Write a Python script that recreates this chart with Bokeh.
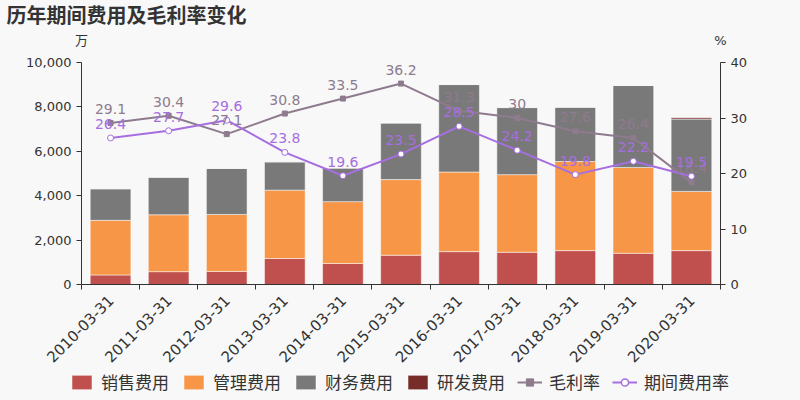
import math
from bokeh.plotting import figure
from bokeh.models import (Range1d, LinearAxis, FixedTicker, NumeralTickFormatter,
                          ColumnDataSource, Legend, LegendItem)
from bokeh.embed import file_html
from bokeh.resources import INLINE
from bokeh.core.properties import value

dates = ["2010-03-31", "2011-03-31", "2012-03-31", "2013-03-31", "2014-03-31", "2015-03-31",
         "2016-03-31", "2017-03-31", "2018-03-31", "2019-03-31", "2020-03-31"]
sales = [430, 578, 590, 1170, 948, 1320, 1481, 1452, 1526, 1407, 1526]
admin = [2460, 2562, 2565, 3080, 2785, 3405, 3585, 3496, 4014, 3867, 2667]
finance = [1422, 1690, 2075, 1275, 1511, 2549, 3941, 3022, 2445, 3689, 3259]
rnd = [0, 0, 0, 0, 0, 0, 0, 0, 0, 0, 60]
gross_margin = [29.1, 30.4, 27.1, 30.8, 33.5, 36.2, 31.3, 30.0, 27.6, 26.4, 18.4]
expense_rate = [26.4, 27.7, 29.6, 23.8, 19.6, 23.5, 28.5, 24.2, 19.8, 22.2, 19.5]
left_ticks = [0, 2000, 4000, 6000, 8000, 10000]
right_ticks = [0, 10, 20, 30, 40]
left_unit = "万"
right_unit = "%"
title_text = "历年期间费用及毛利率变化"
series_names = ["销售费用", "管理费用", "财务费用", "研发费用", "毛利率", "期间费用率"]

FONT = "DejaVu Sans, Noto Sans CJK SC"
BG = "#f8f8f8"
TXT = "#333333"
C_SALES, C_ADMIN, C_FIN, C_RND = "#c0504d", "#f79646", "#797979", "#772c2a"
C_GM, C_ER = "#8e7b8e", "#a66ee0"
BAR_COLORS = [C_SALES, C_ADMIN, C_FIN, C_RND]
STACK = ["sales", "admin", "finance", "rnd"]

n = len(dates)
xs = list(range(n))
src = ColumnDataSource(dict(x=xs, sales=sales, admin=admin, finance=finance, rnd=rnd,
                            gm=gross_margin, er=expense_rate,
                            gml=[f"{v:g}" for v in gross_margin],
                            erl=[f"{v:g}" for v in expense_rate]))

p = figure(width=800, height=370, output_backend="svg", toolbar_location=None,
           x_range=Range1d(-0.5, n - 0.5), y_range=Range1d(0, 10000),
           min_border_left=81, min_border_right=80, min_border_top=60, min_border_bottom=85,
           background_fill_color=BG, border_fill_color=BG, outline_line_color=None)
p.extra_y_ranges = {"pct": Range1d(0, 40)}
p.xgrid.grid_line_color = None
p.ygrid.grid_line_color = None

p.vbar_stack(STACK, x="x", width=0.7, source=src,
             fill_color=BAR_COLORS, line_color="white", line_alpha=0.5, line_width=1)

p.line("x", "gm", source=src, y_range_name="pct", line_color=C_GM, line_width=2)
p.scatter("x", "gm", source=src, y_range_name="pct", marker="square", size=5,
          fill_color=C_GM, line_color=C_GM)
p.line("x", "er", source=src, y_range_name="pct", line_color=C_ER, line_width=2)
p.scatter("x", "er", source=src, y_range_name="pct", marker="circle", size=6,
          fill_color="white", line_color=C_ER, line_width=1)

p.text("x", "gm", text="gml", source=src, y_range_name="pct", text_align="center",
       text_baseline="middle", y_offset=-14, text_font_size="14px", text_color=C_GM,
       text_font=value(FONT))
p.text("x", "er", text="erl", source=src, y_range_name="pct", text_align="center",
       text_baseline="middle", y_offset=-14, text_font_size="14px", text_color=C_ER,
       text_font=value(FONT))

# axes
xa = p.xaxis[0]
xa.ticker = FixedTicker(ticks=xs, minor_ticks=[i - 0.5 for i in range(n + 1)])
xa.major_label_overrides = {i: d for i, d in enumerate(dates)}
xa.major_label_orientation = math.pi / 4
xa.major_tick_line_color = None
xa.major_tick_out = 0
xa.major_tick_in = 0
xa.minor_tick_line_color = TXT
xa.minor_tick_out = 5
xa.minor_tick_in = 0
xa.major_label_standoff = 8

ya = p.yaxis[0]
ya.ticker = FixedTicker(ticks=left_ticks)
ya.formatter = NumeralTickFormatter(format="0,0")

ra = LinearAxis(y_range_name="pct", ticker=FixedTicker(ticks=right_ticks))
p.add_layout(ra, "right")

for ax in (xa, ya, ra):
    ax.axis_line_color = TXT
    ax.major_label_text_color = TXT
    ax.major_label_text_font = FONT
    ax.major_label_text_font_size = "13px"
for ax in (ya, ra):
    ax.major_tick_line_color = TXT
    ax.major_tick_out = 5
    ax.major_tick_in = 0
    ax.minor_tick_line_color = None
    ax.major_label_standoff = 5
xa.major_label_text_font_size = "15px"

# unit labels via an invisible top axis
ua = LinearAxis(ticker=FixedTicker(ticks=[-0.5, n - 0.5], minor_ticks=[]),
                major_label_overrides={-0.5: left_unit, n - 0.5: right_unit},
                axis_line_color=None, major_tick_line_color=None, minor_tick_line_color=None,
                major_tick_out=0, major_tick_in=0, major_label_standoff=15,
                major_label_text_font=FONT, major_label_text_font_size="13px",
                major_label_text_color=TXT)
p.add_layout(ua, "above")

# title
p.title.text = title_text
p.title.align = "left"
p.title.offset = -75
p.title.text_font = FONT
p.title.text_font_size = "20px"
p.title.text_font_style = "bold"
p.title.text_color = TXT
p.title.standoff = 3

# legend strip: a separate small figure whose view excludes the data, so only the legend shows
lg = figure(width=800, height=30, output_backend="svg", toolbar_location=None,
            x_axis_type=None, y_axis_type=None,
            x_range=Range1d(-1000, -999), y_range=Range1d(-1000, -999),
            min_border=0, min_border_left=0, min_border_right=0,
            min_border_top=0, min_border_bottom=0,
            background_fill_color=BG, border_fill_color=BG, outline_line_color=None)
lg.xgrid.grid_line_color = None
lg.ygrid.grid_line_color = None
items = []
bstack = lg.vbar_stack(STACK, x="x", width=0.7, source=src, fill_color=BAR_COLORS,
                       line_color="white", line_alpha=0.5, line_width=1)
for name, r in zip(series_names[:4], bstack):
    items.append(LegendItem(label=name, renderers=[r]))
r1 = lg.line("x", "gm", source=src, line_color=C_GM, line_width=2)
r2 = lg.scatter("x", "gm", source=src, marker="square", size=10, fill_color=C_GM,
                line_color=C_GM)
items.append(LegendItem(label=series_names[4], renderers=[r1, r2]))
r3 = lg.line("x", "er", source=src, line_color=C_ER, line_width=2)
r4 = lg.scatter("x", "er", source=src, marker="circle", size=11, fill_color="white",
                line_color=C_ER, line_width=1.5)
items.append(LegendItem(label=series_names[5], renderers=[r3, r4]))

legend = Legend(items=items, orientation="horizontal", location=(69, 6),
                glyph_width=25, glyph_height=18, label_standoff=7, spacing=12, padding=0,
                margin=0, border_line_color=None, background_fill_alpha=0,
                label_text_font_size="17px", label_text_color=TXT, label_text_font=FONT,
                label_height=18)
lg.add_layout(legend, "center")

html = file_html([p, lg], INLINE)
html = html.replace("<head>", "<head><style>html,body{background:#f8f8f8;margin:0;}</style>", 1)
open("out.html", "w").write(html)
